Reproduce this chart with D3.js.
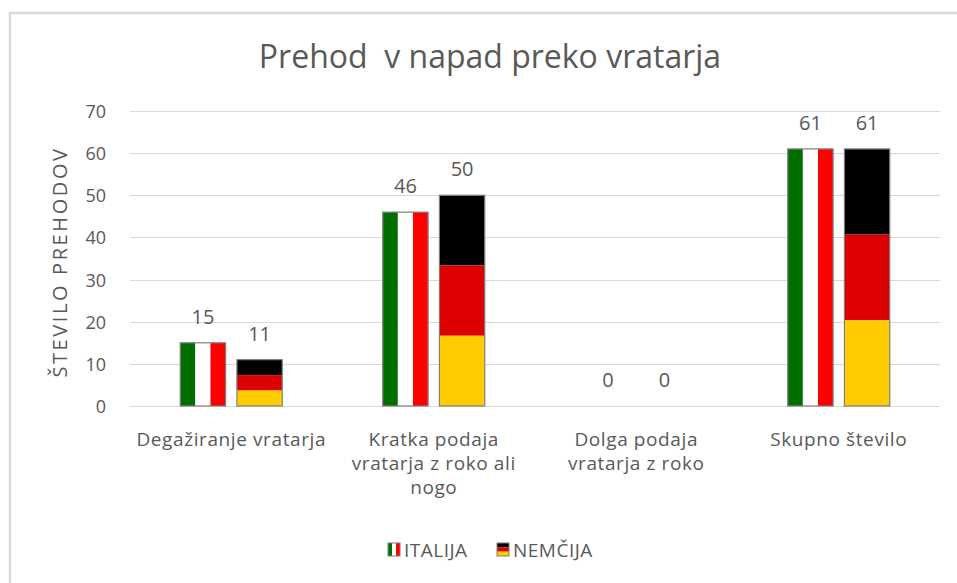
<!DOCTYPE html>
<html>
<head>
<meta charset="utf-8">
<script src="https://cdn.jsdelivr.net/npm/d3@7"></script>
<style>
  body { margin: 0; background: #fff; }
  text { font-family: "Open Sans", "Noto Sans", sans-serif; fill: #595959; }
</style>
</head>
<body>
<svg id="chart"></svg>
<script>
// data
const categories = [
  ["Degažiranje vratarja"],
  ["Kratka podaja", "vratarja z roko ali", "nogo"],
  ["Dolga podaja", "vratarja z roko"],
  ["Skupno število"]
]
const series = ["ITALIJA", "NEMČIJA"]
const italija = [15, 46, 0, 61]
const nemcija = [11, 50, 0, 61]
const yTicks = [0, 10, 20, 30, 40, 50, 60, 70]

const W = 957, H = 583
const svg = d3.select("svg#chart")
              .attr("width", W)
              .attr("height", H)

//outer frame
svg.append("rect")
   .attr("x", 10)
   .attr("y", 13)
   .attr("width", W + 20)
   .attr("height", H + 20)
   .attr("fill", "none")
   .attr("stroke", "#d9d9d9")
   .attr("stroke-width", 2.5)

//title
svg.append("text")
   .attr("x", 490)
   .attr("y", 68)
   .attr("text-anchor", "middle")
   .attr("font-size", 32)
   .style("white-space", "pre")
   .text("Prehod  v napad preko vratarja")

//scales
const x = d3.scaleBand()
            .domain(d3.range(categories.length))
            .range([130, 940])
const xs = d3.scaleBand()
             .domain(series)
             .range([-51, 51])
             .paddingInner(0.2)
const y = d3.scaleLinear()
            .domain([0, 70])
            .range([406, 111])

//gridlines
svg.append("g")
   .selectAll("line")
   .data(yTicks)
   .join("line")
   .attr("x1", 130)
   .attr("x2", 940)
   .attr("y1", d => Math.round(y(d)) + 0.5)
   .attr("y2", d => Math.round(y(d)) + 0.5)
   .attr("stroke", "#d9d9d9")
   .attr("stroke-width", 1)

//y tick labels
svg.append("g")
   .selectAll("text")
   .data(yTicks)
   .join("text")
   .attr("x", 106)
   .attr("y", d => y(d) + 7)
   .attr("text-anchor", "end")
   .attr("font-size", 18)
   .text(d => d)

//y axis title
svg.append("text")
   .attr("transform", "translate(67,262) rotate(-90)")
   .attr("text-anchor", "middle")
   .attr("font-size", 20)
   .attr("letter-spacing", 2.6)
   .text("ŠTEVILO PREHODOV")

//category labels
categories.forEach((lines, i) => {
    const t = svg.append("text")
                 .attr("text-anchor", "middle")
                 .attr("font-size", 19)
                 .attr("letter-spacing", 0.6)
    lines.forEach((l, j) => {
        t.append("tspan")
         .attr("x", x(i) + x.bandwidth() / 2)
         .attr("y", 446 + j * 24)
         .text(l)
    })
})

//flag fills
function drawItaly(g, x0, w, y0, y1){
    const cols = ["#006f00", "#ffffff", "#ff0000"]
    cols.forEach((c, k) => {
        g.append("rect")
         .attr("x", x0 + k * w / 3)
         .attr("y", y1)
         .attr("width", w / 3)
         .attr("height", y0 - y1)
         .attr("fill", c)
    })
}
function drawGermany(g, x0, w, y0, y1){
    const cols = ["#000000", "#dd0000", "#ffcc00"]
    const h = (y0 - y1) / 3
    cols.forEach((c, k) => {
        g.append("rect")
         .attr("x", x0)
         .attr("y", y1 + k * h)
         .attr("width", w)
         .attr("height", h)
         .attr("fill", c)
    })
}

//bars
const bars = svg.append("g")
const vals = [italija, nemcija]
vals.forEach((arr, s) => {
    arr.forEach((v, i) => {
        const bx = x(i) + x.bandwidth() / 2 + xs(series[s])
        const bw = xs.bandwidth()
        if (v > 0) {
            if (s == 0) drawItaly(bars, bx, bw, y(0), y(v))
            else drawGermany(bars, bx, bw, y(0), y(v))
            bars.append("rect")
                .attr("x", bx)
                .attr("y", y(v))
                .attr("width", bw)
                .attr("height", y(0) - y(v))
                .attr("fill", "none")
                .attr("stroke", "#7f7f7f")
                .attr("stroke-width", 1.2)
        }
        //data label
        svg.append("text")
           .attr("x", bx + bw / 2)
           .attr("y", y(v) - 19)
           .attr("text-anchor", "middle")
           .attr("font-size", 20)
           .text(v)
    })
})

//legend
const legend = svg.append("g")
const legX = [388, 497]
series.forEach((s, i) => {
    if (i == 0) drawItaly(legend, legX[i], 12, 556, 543)
    else drawGermany(legend, legX[i], 12, 556, 543)
    legend.append("rect")
          .attr("x", legX[i])
          .attr("y", 543)
          .attr("width", 12)
          .attr("height", 13)
          .attr("fill", "none")
          .attr("stroke", "#7f7f7f")
          .attr("stroke-width", 1)
    legend.append("text")
          .attr("x", legX[i] + 16)
          .attr("y", 557)
          .attr("font-size", 19)
          .attr("letter-spacing", 0.5)
          .text(s)
})
</script>
</body>
</html>
